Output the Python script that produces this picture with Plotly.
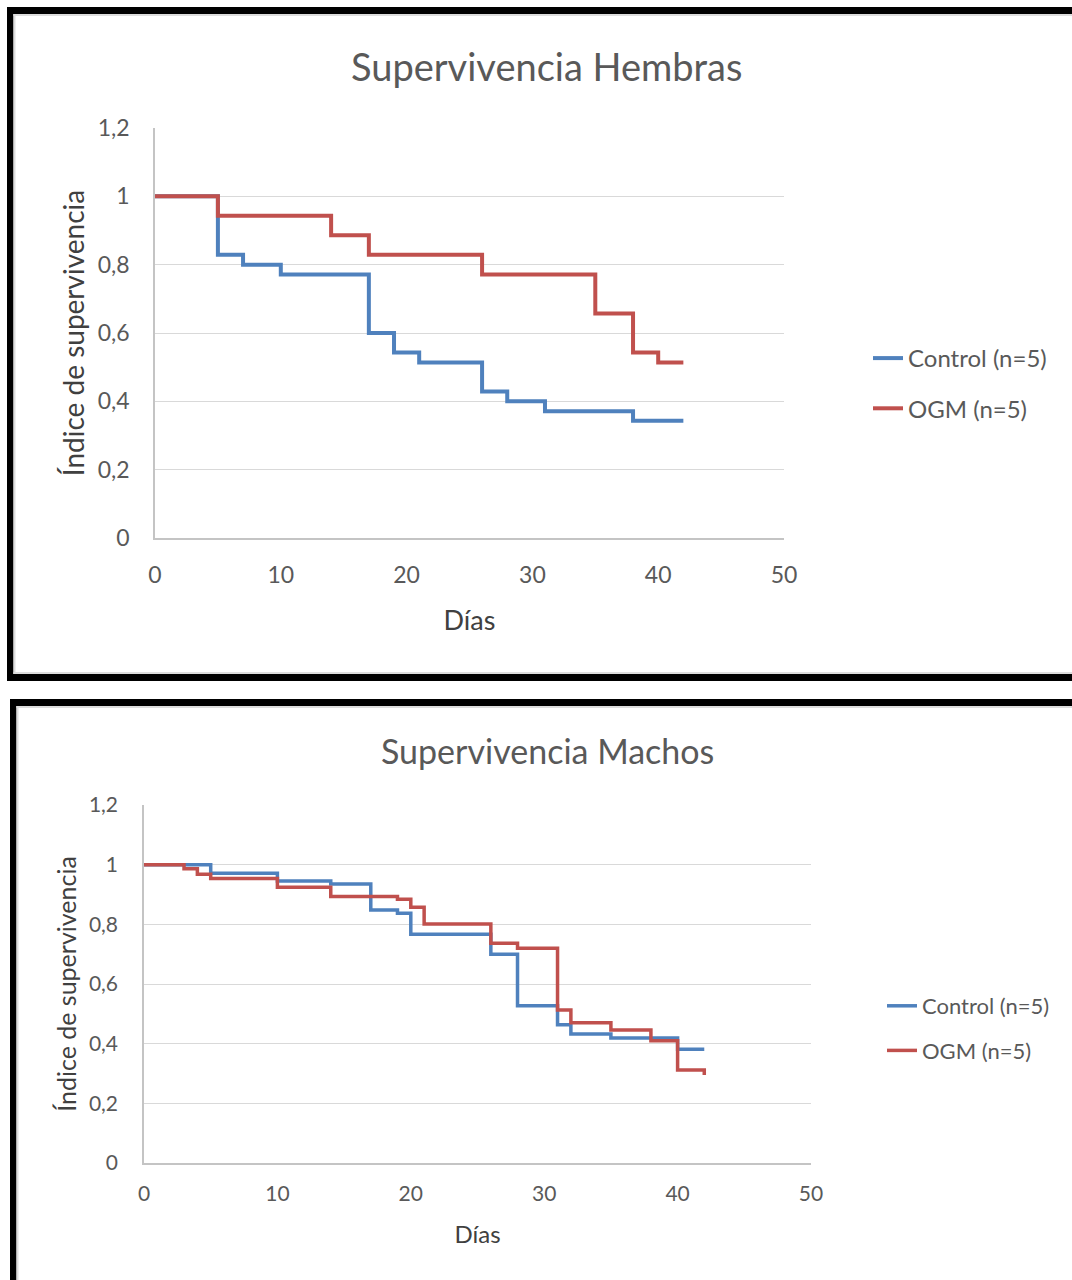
import plotly.graph_objects as go

# ---------------- data ----------------
series_names = ["Control (n=5)", "OGM (n=5)"]
chart_titles = ["Supervivencia Hembras", "Supervivencia Machos"]
x_title = "Días"
y_title = "Índice de supervivencia"

x_tickvals = [0, 10, 20, 30, 40, 50]
x_ticktext = ["0", "10", "20", "30", "40", "50"]
y_tickvals = [0, 0.2, 0.4, 0.6, 0.8, 1.0, 1.2]
y_ticktext = ["0", "0,2", "0,4", "0,6", "0,8", "1", "1,2"]

hem_control_days = [0, 5, 7, 10, 17, 19, 21, 26, 28, 31, 38, 42]
hem_control_surv = [1.0, 0.829, 0.800, 0.771, 0.600, 0.543, 0.514, 0.429, 0.400, 0.371, 0.343, 0.343]
hem_ogm_days = [0, 5, 14, 17, 26, 35, 38, 40, 42]
hem_ogm_surv = [1.0, 0.943, 0.886, 0.829, 0.771, 0.657, 0.543, 0.514, 0.514]

mach_control_days = [0, 5, 10, 14, 17, 19, 20, 26, 28, 31, 32, 35, 40, 42]
mach_control_surv = [1.0, 0.971, 0.945, 0.935, 0.848, 0.837, 0.767, 0.700, 0.527, 0.463, 0.432, 0.419, 0.381, 0.381]
mach_ogm_days = [0, 3, 4, 5, 10, 14, 19, 20, 21, 26, 28, 31, 32, 35, 38, 40, 42, 42]
mach_ogm_surv = [1.0, 0.986, 0.968, 0.954, 0.924, 0.893, 0.884, 0.857, 0.801, 0.737, 0.720, 0.513, 0.470, 0.446, 0.410, 0.312, 0.312, 0.295]

# ---------------- layout helpers ----------------
W, H = 1072, 1280
FONT = "Lato"
BLUE = "#4F81BD"
RED = "#C0504D"
GRID = "#D9D9D9"
AXLINE = "#C4C4C4"
TICKC = "#595959"
TITLEC = "#595959"
AXTC = "#404040"


def px(x):
    return x / W


def py(y):
    return 1 - y / H


fig = go.Figure()

# Top chart traces
fig.add_trace(go.Scatter(x=hem_control_days, y=hem_control_surv, mode="lines", line_shape="hv",
                         line=dict(color=BLUE, width=4), name=series_names[0],
                         xaxis="x", yaxis="y", legend="legend", legendgroup="a"))
fig.add_trace(go.Scatter(x=hem_ogm_days, y=hem_ogm_surv, mode="lines", line_shape="hv",
                         line=dict(color=RED, width=4), name=series_names[1],
                         xaxis="x", yaxis="y", legend="legend", legendgroup="b"))
# Bottom chart traces
fig.add_trace(go.Scatter(x=mach_control_days, y=mach_control_surv, mode="lines", line_shape="hv",
                         line=dict(color=BLUE, width=3.5), name=series_names[0],
                         xaxis="x2", yaxis="y2", legend="legend2", legendgroup="c"))
fig.add_trace(go.Scatter(x=mach_ogm_days, y=mach_ogm_surv, mode="lines", line_shape="hv",
                         line=dict(color=RED, width=3.5), name=series_names[1],
                         xaxis="x2", yaxis="y2", legend="legend2", legendgroup="d"))


def xaxis_cfg(domain, anchor, fs, tfs, standoff, tstand):
    return dict(domain=domain, anchor=anchor, range=[0, 50], tickvals=x_tickvals, ticktext=x_ticktext,
                showgrid=False, zeroline=False, showline=True, linecolor=AXLINE, linewidth=1.5,
                ticks="", ticklabelstandoff=standoff, fixedrange=True, automargin=False,
                tickfont=dict(family=FONT, size=fs, color=TICKC),
                title=dict(text=x_title, font=dict(family=FONT, size=tfs, color=AXTC), standoff=tstand))


def yaxis_cfg(domain, anchor, fs, tfs, standoff, tstand):
    return dict(domain=domain, anchor=anchor, range=[0, 1.2], tickvals=y_tickvals, ticktext=y_ticktext,
                showgrid=True, gridcolor=GRID, gridwidth=1.3, zeroline=False, showline=True,
                linecolor=AXLINE, linewidth=1.5, ticks="", ticklabelstandoff=standoff, fixedrange=True,
                automargin=False,
                tickfont=dict(family=FONT, size=fs, color=TICKC),
                title=dict(text=y_title, font=dict(family=FONT, size=tfs, color=AXTC), standoff=tstand))


fig.update_layout(
    width=W, height=H, margin=dict(l=0, r=0, t=0, b=0, pad=0, autoexpand=False),
    paper_bgcolor="white", plot_bgcolor="white",
    font=dict(family=FONT, color=TICKC),
    xaxis=xaxis_cfg([px(155), px(784)], "y", 23, 27, 16, 24),
    yaxis=yaxis_cfg([py(538), py(128)], "x", 23, 28, 19, 5),
    xaxis2=xaxis_cfg([px(144), px(811)], "y2", 21, 24, 11, 22),
    yaxis2=yaxis_cfg([py(1163), py(805)], "x2", 21, 25, 20, 5),
    legend=dict(x=px(868), y=py(383.5), xanchor="left", yanchor="middle", tracegroupgap=16,
                font=dict(family=FONT, size=24, color=TICKC), bgcolor="rgba(0,0,0,0)",
                itemclick=False, itemdoubleclick=False),
    legend2=dict(x=px(882), y=py(1028.5), xanchor="left", yanchor="middle", tracegroupgap=13,
                 font=dict(family=FONT, size=22, color=TICKC), bgcolor="rgba(0,0,0,0)",
                 itemclick=False, itemdoubleclick=False),
    showlegend=True,
)

# Chart titles
fig.add_annotation(text=chart_titles[0], x=px(546), y=py(66), xref="paper", yref="paper",
                   xanchor="center", yanchor="middle", showarrow=False,
                   font=dict(family=FONT, size=38, color=TITLEC))
fig.add_annotation(text=chart_titles[1], x=px(547), y=py(750), xref="paper", yref="paper",
                   xanchor="center", yanchor="middle", showarrow=False,
                   font=dict(family=FONT, size=34, color=TITLEC))


# Frames (decorative borders around each chart)
def rect(x0, y0, x1, y1, color):
    fig.add_shape(type="rect", xref="paper", yref="paper", x0=px(x0), x1=px(x1), y0=py(y1), y1=py(y0),
                  fillcolor=color, line=dict(width=0), layer="below")


# top panel
rect(7, 7, W, 14, "black")
rect(7, 7, 13.5, 681, "black")
rect(7, 674, W, 681, "black")
rect(13.5, 14, W, 16, "#DDDDDD")
rect(13.5, 14, 15.5, 674, "#DDDDDD")
rect(13.5, 672, W, 674, "#DDDDDD")
# bottom panel
rect(10, 699, W, 706, "black")
rect(10, 699, 16.5, H, "black")
rect(16.5, 706, W, 708, "#DDDDDD")
rect(16.5, 706, 18.5, H, "#DDDDDD")

fig.write_html("out.html")
